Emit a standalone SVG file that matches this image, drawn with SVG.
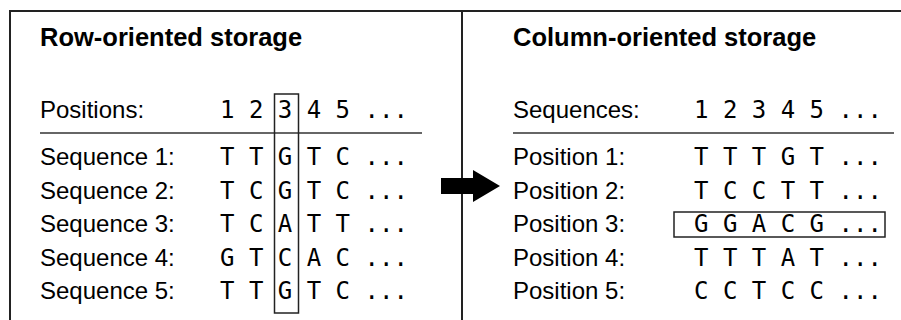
<svg xmlns="http://www.w3.org/2000/svg" width="901" height="320" viewBox="0 0 901 320">
<style>
.frame{stroke:#222;stroke-width:2;fill:none}
.rule{stroke:#333;stroke-width:1.5;fill:none}
.hl{stroke:#222;stroke-width:1.5;fill:none}
.title{font-family:"Liberation Sans",Arial,sans-serif;font-weight:bold;font-size:25.5px;fill:#000}
.lbl{font-family:"Liberation Sans",Arial,sans-serif;font-size:24px;fill:#000}
.mono{font-family:"DejaVu Sans Mono",monospace;font-size:24px;fill:#000}
</style>
<rect width="901" height="320" fill="#fff"/>
<g id="frame">
<line class="frame" x1="9" y1="11" x2="901" y2="11"/>
<line class="frame" x1="10" y1="10" x2="10" y2="320"/>
<line class="frame" x1="462" y1="11" x2="462" y2="320"/>
</g>
<g id="row-oriented">
<text class="title" x="40" y="46">Row-oriented storage</text>
<text class="lbl" x="40" y="118">Positions:</text>
<text class="mono" x="220" y="118" xml:space="preserve">1 2 3 4 5 ...</text>
<line class="rule" x1="40" y1="133" x2="422" y2="133"/>
<text class="lbl" x="40" y="165">Sequence 1:</text>
<text class="mono" x="220" y="165" xml:space="preserve">T T G T C ...</text>
<text class="lbl" x="40" y="198.5">Sequence 2:</text>
<text class="mono" x="220" y="198.5" xml:space="preserve">T C G T C ...</text>
<text class="lbl" x="40" y="232">Sequence 3:</text>
<text class="mono" x="220" y="232" xml:space="preserve">T C A T T ...</text>
<text class="lbl" x="40" y="265.5">Sequence 4:</text>
<text class="mono" x="220" y="265.5" xml:space="preserve">G T C A C ...</text>
<text class="lbl" x="40" y="299">Sequence 5:</text>
<text class="mono" x="220" y="299" xml:space="preserve">T T G T C ...</text>
<rect class="hl" x="274.5" y="94" width="24" height="219"/>
</g>
<g id="column-oriented">
<text class="title" x="513" y="46">Column-oriented storage</text>
<text class="lbl" x="513" y="118">Sequences:</text>
<text class="mono" x="694" y="118" xml:space="preserve">1 2 3 4 5 ...</text>
<line class="rule" x1="513" y1="133" x2="894" y2="133"/>
<text class="lbl" x="513" y="165">Position 1:</text>
<text class="mono" x="694" y="165" xml:space="preserve">T T T G T ...</text>
<text class="lbl" x="513" y="198.5">Position 2:</text>
<text class="mono" x="694" y="198.5" xml:space="preserve">T C C T T ...</text>
<text class="lbl" x="513" y="232">Position 3:</text>
<text class="mono" x="694" y="232" xml:space="preserve">G G A C G ...</text>
<text class="lbl" x="513" y="265.5">Position 4:</text>
<text class="mono" x="694" y="265.5" xml:space="preserve">T T T A T ...</text>
<text class="lbl" x="513" y="299">Position 5:</text>
<text class="mono" x="694" y="299" xml:space="preserve">C C T C C ...</text>
<rect class="hl" x="674" y="212" width="211" height="25"/>
</g>
<g id="connectors">
<polygon points="441,178 473,178 473,170 500,186 473,202 473,194 441,194" fill="#000"/>
</g>
</svg>
